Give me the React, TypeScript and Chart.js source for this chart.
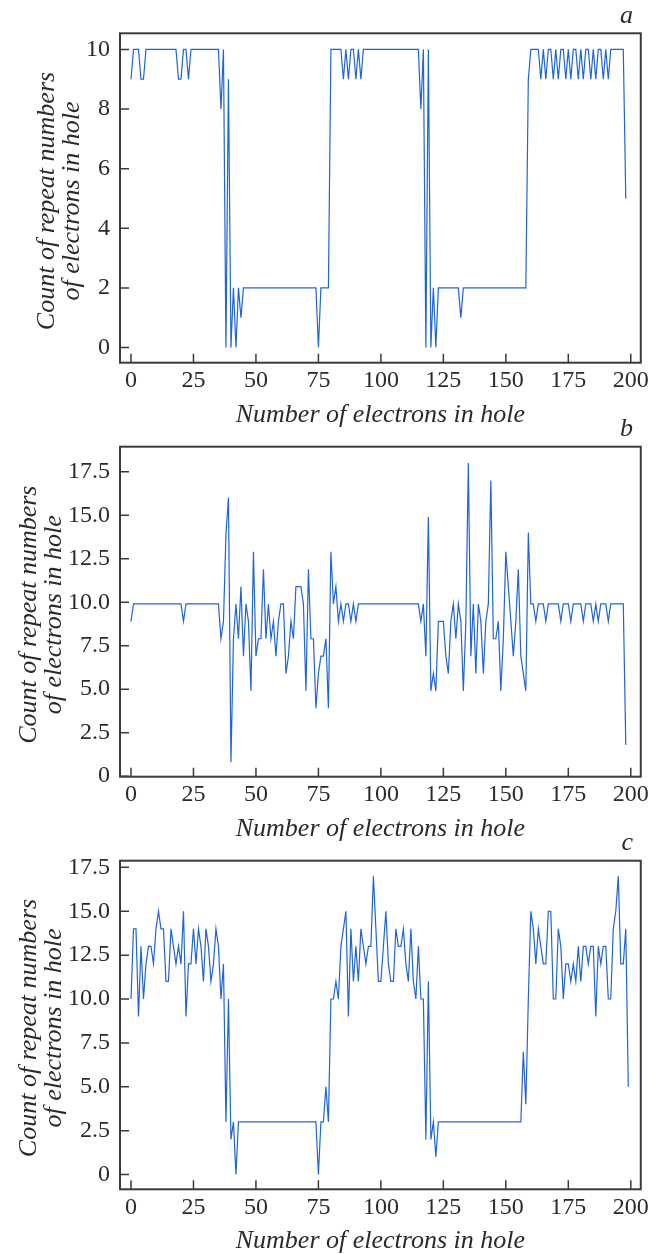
import React, { useEffect, useRef } from 'react';
import { Chart, registerables } from 'chart.js';

Chart.register(...registerables);

// ---------------- data ----------------
const xTickValues = [0, 25, 50, 75, 100, 125, 150, 175, 200];

const seriesA = [
  9, 10, 10, 10, 9, 9, 10, 10, 10, 10,
  10, 10, 10, 10, 10, 10, 10, 10, 10, 9,
  9, 10, 10, 9, 10, 10, 10, 10, 10, 10,
  10, 10, 10, 10, 10, 10, 8, 10, 0, 9,
  0, 2, 0, 2, 1, 2, 2, 2, 2, 2,
  2, 2, 2, 2, 2, 2, 2, 2, 2, 2,
  2, 2, 2, 2, 2, 2, 2, 2, 2, 2,
  2, 2, 2, 2, 2, 0, 2, 2, 2, 2,
  10, 10, 10, 10, 10, 9, 10, 9, 10, 10,
  9, 10, 9, 10, 10, 10, 10, 10, 10, 10,
  10, 10, 10, 10, 10, 10, 10, 10, 10, 10,
  10, 10, 10, 10, 10, 10, 8, 10, 0, 10,
  0, 2, 0, 2, 2, 2, 2, 2, 2, 2,
  2, 2, 1, 2, 2, 2, 2, 2, 2, 2,
  2, 2, 2, 2, 2, 2, 2, 2, 2, 2,
  2, 2, 2, 2, 2, 2, 2, 2, 2, 9,
  10, 10, 10, 10, 9, 10, 9, 10, 10, 9,
  10, 9, 10, 10, 9, 10, 9, 10, 10, 9,
  10, 9, 10, 10, 9, 10, 9, 10, 10, 9,
  10, 9, 10, 10, 10, 10, 10, 10, 5,
];

const seriesB = [
  8.9, 9.9, 9.9, 9.9, 9.9, 9.9, 9.9, 9.9, 9.9, 9.9,
  9.9, 9.9, 9.9, 9.9, 9.9, 9.9, 9.9, 9.9, 9.9, 9.9,
  9.9, 8.9, 9.9, 9.9, 9.9, 9.9, 9.9, 9.9, 9.9, 9.9,
  9.9, 9.9, 9.9, 9.9, 9.9, 9.9, 7.9, 8.9, 13.9, 16.0,
  0.8, 7.9, 9.9, 7.9, 10.9, 6.9, 9.9, 8.9, 4.9, 12.9,
  6.9, 7.9, 7.9, 11.9, 7.9, 9.9, 7.9, 8.9, 6.9, 8.9,
  9.9, 9.9, 5.9, 6.9, 8.9, 7.9, 10.9, 10.9, 10.9, 9.9,
  4.9, 11.9, 7.9, 7.9, 3.9, 5.9, 6.9, 6.9, 7.9, 3.9,
  12.9, 9.9, 10.9, 8.9, 9.9, 8.9, 9.9, 9.9, 8.9, 9.9,
  8.9, 9.9, 9.9, 9.9, 9.9, 9.9, 9.9, 9.9, 9.9, 9.9,
  9.9, 9.9, 9.9, 9.9, 9.9, 9.9, 9.9, 9.9, 9.9, 9.9,
  9.9, 9.9, 9.9, 9.9, 9.9, 9.9, 8.9, 9.9, 6.9, 14.9,
  4.9, 5.9, 4.9, 8.9, 8.9, 8.9, 6.9, 5.9, 8.9, 9.9,
  7.9, 9.9, 8.9, 4.9, 8.9, 18.0, 6.9, 9.9, 5.9, 9.9,
  8.9, 5.9, 8.9, 9.9, 17.0, 7.9, 7.9, 8.9, 4.9, 7.9,
  12.9, 10.9, 8.9, 6.9, 8.9, 11.9, 6.9, 5.9, 4.9, 14.0,
  9.9, 9.9, 8.9, 9.9, 9.9, 9.9, 8.9, 9.9, 9.9, 9.9,
  9.9, 9.9, 8.9, 9.9, 9.9, 9.9, 8.9, 9.9, 9.9, 9.9,
  9.9, 8.9, 9.9, 9.9, 9.9, 8.9, 9.9, 8.9, 9.9, 9.9,
  9.9, 8.9, 9.9, 9.9, 9.9, 9.9, 9.9, 9.9, 1.8,
];

const seriesC = [
  10, 14, 14, 9, 13, 10, 12, 13, 13, 12,
  14, 15, 14, 14, 11, 11, 14, 13, 12, 13,
  12, 15, 9, 12, 12, 14, 12, 14, 13, 11,
  14, 13, 11, 12, 14, 13, 10, 12, 3, 10,
  2, 3, 0, 3, 3, 3, 3, 3, 3, 3,
  3, 3, 3, 3, 3, 3, 3, 3, 3, 3,
  3, 3, 3, 3, 3, 3, 3, 3, 3, 3,
  3, 3, 3, 3, 3, 0, 3, 3, 5, 3,
  10, 10, 11, 10, 13, 14, 15, 9, 14, 11,
  13, 11, 14, 13, 12, 13, 13, 17, 14, 11,
  11, 13, 15, 12, 11, 11, 14, 13, 13, 14,
  12, 11, 14, 11, 10, 13, 10, 10, 2, 11,
  2, 3, 1, 3, 3, 3, 3, 3, 3, 3,
  3, 3, 3, 3, 3, 3, 3, 3, 3, 3,
  3, 3, 3, 3, 3, 3, 3, 3, 3, 3,
  3, 3, 3, 3, 3, 3, 3, 7, 4, 10,
  15, 14, 12, 14, 13, 12, 12, 15, 15, 10,
  10, 14, 13, 10, 12, 12, 11, 12, 11, 13,
  11, 13, 13, 12, 13, 13, 9, 13, 12, 13,
  13, 10, 10, 14, 15, 17, 12, 12, 14, 5,
];

const yTicksA = [0, 2, 4, 6, 8, 10];
const yTickLabelsA = ['0', '2', '4', '6', '8', '10'];
const yTicksBC = [0, 2.5, 5, 7.5, 10, 12.5, 15, 17.5];
const yTickLabelsBC = ['0', '2.5', '5.0', '7.5', '10.0', '12.5', '15.0', '17.5'];

const panelLetters = ['a', 'b', 'c'];
const xTitle = 'Number of electrons in hole';
const yTitleLines = ['Count of repeat numbers', 'of electrons in hole'];

// ---------------- layout / style ----------------
const W = 653;
const H = 1254;
const PLOT_LEFT = 120;
const PLOT_RIGHT = 641.7;
const X_AXIS_H = 40;
const LINE_COLOR = '#1f64dc';
const INK = '#2a2a2a';
const FRAME = '#3a3a3a';
const FONT = '"Liberation Serif", "Times New Roman", serif';

type Panel = {
  values: number[];
  top: number;
  bottom: number;
  yMin: number;
  yMax: number;
  yTicks: number[];
  yLabels: string[];
  letter: string;
  yTitleX: [number, number];
};

const panels: Panel[] = [
  { values: seriesA, top: 33.3, bottom: 362.7, yMin: -0.51, yMax: 10.54, yTicks: yTicksA, yLabels: yTickLabelsA, letter: panelLetters[0], yTitleX: [54, 79] },
  { values: seriesB, top: 446.7, bottom: 776.7, yMin: -0.03, yMax: 18.94, yTicks: yTicksBC, yLabels: yTickLabelsBC, letter: panelLetters[1], yTitleX: [36, 61] },
  { values: seriesC, top: 860.7, bottom: 1189.3, yMin: -0.84, yMax: 17.88, yTicks: yTicksBC, yLabels: yTickLabelsBC, letter: panelLetters[2], yTitleX: [36, 61] },
];

function makeDecorPlugin(p: Panel) {
  return {
    id: 'decor',
    afterDraw(chart: any) {
      const { ctx, chartArea } = chart;
      const { left, right, top, bottom } = chartArea;
      const xs = chart.scales.x;
      const ys = chart.scales.y;
      ctx.save();
      // inward tick marks
      ctx.strokeStyle = FRAME;
      ctx.lineWidth = 1.5;
      ctx.beginPath();
      xs.ticks.forEach((t: any) => {
        const px = xs.getPixelForValue(t.value);
        ctx.moveTo(px, bottom);
        ctx.lineTo(px, bottom - 9);
      });
      ys.ticks.forEach((t: any) => {
        const py = ys.getPixelForValue(t.value);
        ctx.moveTo(left, py);
        ctx.lineTo(left + 9, py);
      });
      ctx.stroke();
      // frame
      ctx.lineWidth = 2;
      ctx.strokeRect(left, top, right - left, bottom - top);

      // x title
      ctx.fillStyle = INK;
      ctx.font = `italic 26px ${FONT}`;
      ctx.textAlign = 'center';
      ctx.textBaseline = 'alphabetic';
      ctx.fillText(xTitle, (left + right) / 2, bottom + 59);

      // y title (two lines, rotated)
      const cy = (top + bottom) / 2 + 3;
      yTitleLines.forEach((line, i) => {
        ctx.save();
        ctx.translate(p.yTitleX[i], cy);
        ctx.rotate(-Math.PI / 2);
        ctx.fillText(line, 0, 0);
        ctx.restore();
      });

      // panel letter
      ctx.textAlign = 'right';
      ctx.fillText(p.letter, 633, top - 10.5);
      ctx.restore();
    },
  };
}

function PanelChart({ p }: { p: Panel }) {
  const ref = useRef<HTMLCanvasElement | null>(null);
  useEffect(() => {
    if (!ref.current) return;
    const chart = new Chart(ref.current, {
      type: 'line',
      data: {
        datasets: [
          {
            data: p.values.map((v, i) => ({ x: i, y: v })),
            borderColor: LINE_COLOR,
            borderWidth: 1.2,
            pointRadius: 0,
            fill: false,
            tension: 0,
          },
        ],
      },
      options: {
        responsive: false,
        animation: false,
        devicePixelRatio: 1,
        events: [],
        layout: {
          padding: {
            left: 0,
            right: W - PLOT_RIGHT,
            top: p.top,
            bottom: H - p.bottom - X_AXIS_H,
          },
        },
        plugins: {
          legend: { display: false },
          tooltip: { enabled: false },
          title: { display: false },
        },
        scales: {
          x: {
            type: 'linear',
            min: -4.4,
            max: 204,
            grid: { display: false, drawTicks: false },
            border: { display: false },
            afterBuildTicks: (s: any) => {
              s.ticks = xTickValues.map((v) => ({ value: v }));
            },
            afterFit: (s: any) => {
              s.height = X_AXIS_H;
            },
            ticks: {
              autoSkip: false,
              maxRotation: 0,
              minRotation: 0,
              padding: 4,
              color: INK,
              font: { family: FONT, size: 24 },
              callback: (v: any) => String(v),
            },
          },
          y: {
            type: 'linear',
            min: p.yMin,
            max: p.yMax,
            grid: { display: false, drawTicks: false },
            border: { display: false },
            afterBuildTicks: (s: any) => {
              s.ticks = p.yTicks.map((v) => ({ value: v }));
            },
            afterFit: (s: any) => {
              s.width = PLOT_LEFT;
            },
            ticks: {
              autoSkip: false,
              padding: 10,
              color: INK,
              font: { family: FONT, size: 24 },
              callback: (v: any) => {
                const idx = p.yTicks.indexOf(Number(v));
                return idx >= 0 ? p.yLabels[idx] : '';
              },
            },
          },
        },
      },
      plugins: [makeDecorPlugin(p)],
    } as any);
    return () => chart.destroy();
  }, [p]);
  return (
    <canvas
      ref={ref}
      width={W}
      height={H}
      style={{ position: 'absolute', left: 0, top: 0, width: W, height: H }}
    />
  );
}

export default function App() {
  return (
    <div style={{ position: 'absolute', left: 0, top: 0, width: W, height: H, background: '#fff' }}>
      {panels.map((p, i) => (
        <PanelChart key={i} p={p} />
      ))}
    </div>
  );
}
